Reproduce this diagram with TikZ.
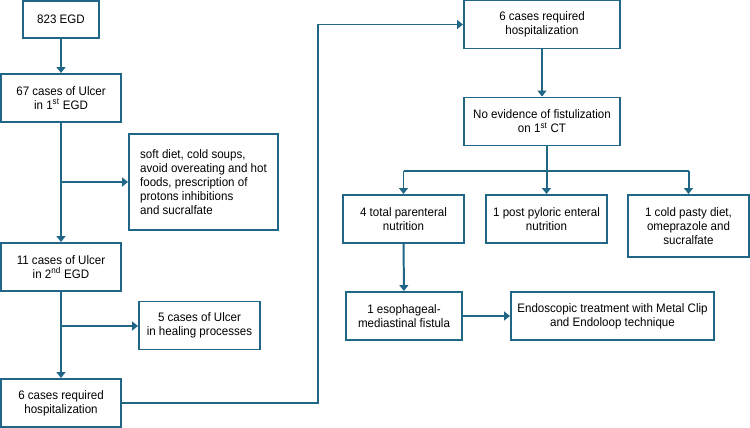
\documentclass[tikz,border=0pt]{standalone}
\usepackage{fontspec}
\setmainfont{Liberation Sans}[FakeStretch=0.94]
\usetikzlibrary{arrows.meta}
\definecolor{flowBlue}{RGB}{31,102,135}
\tikzset{
  stepBox/.style={rectangle,draw=flowBlue,line width=1.7pt,align=center,inner sep=2pt,
    minimum height=1.44cm,font=\fontsize{10.5}{12}\selectfont},
  link/.style={draw=flowBlue,line width=1.7pt},
  arr/.style={link,-{Triangle[width=7.5pt,length=5pt]}}
}

\begin{document}
\begin{tikzpicture}[x=0.03cm,y=-0.03cm]
  \useasboundingbox (0,0) rectangle (750,428);
  % left column
  \node[stepBox,minimum width=2.28cm,minimum height=1.11cm] (egd) at (61,19.5) {823 EGD};
  \node[stepBox,minimum width=3.6cm] (ulcerA) at (61,98) {67 cases of Ulcer\\in 1\textsuperscript{st} EGD};
  \node[stepBox,minimum width=4.47cm,minimum height=2.88cm,align=left] (diet) at (203.5,182)
    {soft diet, cold soups,\\avoid overeating and hot\\foods, prescription of\\protons inhibitions\\and sucralfate};
  \node[stepBox,minimum width=3.6cm] (ulcerB) at (61,267) {11 cases of Ulcer\\in 2\textsuperscript{nd} EGD};
  \node[stepBox,minimum width=3.63cm] (heal) at (199.5,325.5) {5 cases of Ulcer\\in healing processes};
  \node[stepBox,minimum width=3.6cm] (hospA) at (61,403) {6 cases required\\hospitalization};
  % right part
  \node[stepBox,minimum width=4.68cm] (hospB) at (542,24.5) {6 cases required\\hospitalization};
  \node[stepBox,minimum width=4.68cm] (noev) at (542,121.5) {No evidence of fistulization\\on 1\textsuperscript{st} CT};
  \node[stepBox,minimum width=3.63cm] (tpn) at (403.5,219) {4 total parenteral\\nutrition};
  \node[stepBox,minimum width=3.63cm] (ppe) at (546.5,219) {1 post pyloric enteral\\nutrition};
  \node[stepBox,minimum width=3.63cm,minimum height=1.86cm] (cold) at (688.5,226) {1 cold pasty diet,\\omeprazole and\\sucralfate};
  \node[stepBox,minimum width=3.48cm] (fist) at (404,316) {1 esophageal-\\mediastinal fistula};
  \node[stepBox,minimum width=6.09cm] (endo) at (612.5,316) {Endoscopic treatment with Metal Clip\\and Endoloop technique};

  \coordinate (jA) at (61,182);
  \coordinate (jB) at (61,326);
  \coordinate (up) at (318,403);
  \coordinate (top) at (318,24.5);
  \coordinate (split) at (546.5,171);

  \draw[arr] (egd) -- (ulcerA);
  \draw[arr] (ulcerA) -- (ulcerB);
  \draw[arr] (jA) -- (diet.west |- jA);
  \draw[arr] (ulcerB) -- (hospA);
  \draw[arr] (jB) -- (heal.west |- jB);
  \draw[link] (hospA.east) -- (up) -- (top);
  \draw[arr] (top) -- (hospB.west);
  \draw[arr] (hospB) -- (noev);
  \draw[link] (noev.south -| split) -- (split);
  \draw[link] (tpn.north |- split) -- (cold.north |- split);
  \foreach \b in {tpn,ppe,cold}
    \draw[arr] (\b.north |- split) -- (\b.north);
  \draw[arr] (tpn) -- (fist);
  \draw[arr] (fist) -- (endo);
\end{tikzpicture}
\end{document}
